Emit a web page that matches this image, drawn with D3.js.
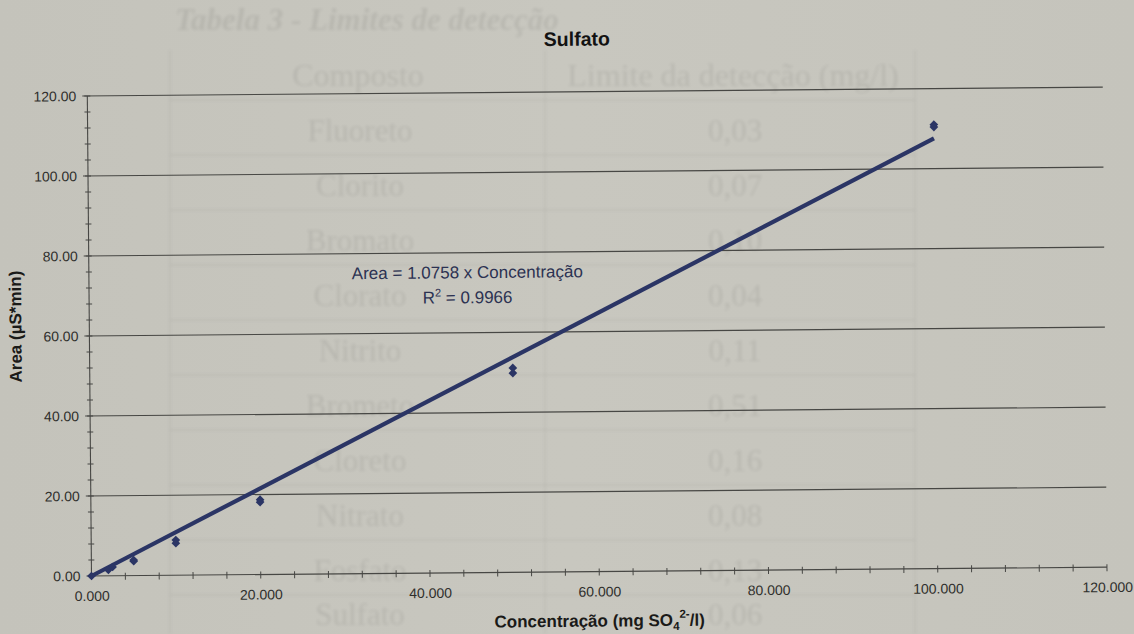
<!DOCTYPE html>
<html>
<head>
<meta charset="utf-8">
<script src="https://cdn.jsdelivr.net/npm/d3@7"></script>
<style>
  html, body { margin: 0; padding: 0; background: #c5c4bc; }
  svg { display: block; }
</style>
</head>
<body>
<svg id="chart" width="1134" height="634"></svg>
<script>
// Calibration standards for sulfate (replicate injections)
const concentrations = [0, 2, 2.5, 5, 5, 10, 10, 20, 20, 50, 50, 100, 100];
const areas = [0, 1.5, 2.2, 3.6, 3.9, 8.8, 8.0, 18.7, 18.1, 51.1, 49.8, 111.0, 110.4];

// Linear fit through the origin
const slope = 1.0758;
const rSquared = 0.9966;
const trendRange = [0, 100];

// Axis ticks
const xMajorTicks = [0, 20, 40, 60, 80, 100, 120];
const yMajorTicks = [0, 20, 40, 60, 80, 100, 120];
const xMinorTicks = d3.range(0, 121, 4);
const yMinorTicks = d3.range(0, 121, 4);

// Reference table printed on the facing sheet
const tableTitle = "Tabela 3 - Limites de detecção";
const tableHeaders = ["Composto", "Limite da detecção (mg/l)"];
const tableCompounds = ["Fluoreto", "Clorito", "Bromato", "Clorato", "Nitrito", "Brometo", "Cloreto", "Nitrato", "Fosfato", "Sulfato"];
const tableLimits = ["0,03", "0,07", "0,10", "0,04", "0,11", "0,51", "0,16", "0,08", "0,13", "0,06"];

const W = 1134, H = 634;
const svg = d3.select("#chart");

const defs = svg.append("defs");
defs.append("filter").attr("id", "soft")
  .append("feGaussianBlur").attr("stdDeviation", 1.4);
const paper = defs.append("linearGradient").attr("id", "paper")
  .attr("x1", 0).attr("y1", 0).attr("x2", 1).attr("y2", 0);
paper.append("stop").attr("offset", 0).attr("stop-color", "#c4c3bb");
paper.append("stop").attr("offset", 0.5).attr("stop-color", "#c8c7bf");
paper.append("stop").attr("offset", 1).attr("stop-color", "#c5c4bc");

svg.append("rect").attr("width", W).attr("height", H).attr("fill", "url(#paper)");

// ---- faint table showing through the sheet ----
const ghost = svg.append("g").attr("filter", "url(#soft)")
  .attr("fill", "#000").attr("opacity", 0.072)
  .style("font-family", "'Liberation Serif', 'DejaVu Serif', serif");

const rowY = d3.scaleLinear().domain([0, 1]).range([141, 196.5]);
ghost.append("text").attr("x", 175).attr("y", 30)
  .style("font-size", "31px").style("font-style", "italic").style("font-weight", "bold")
  .text(tableTitle);
ghost.append("text").attr("x", 358).attr("y", 86).attr("text-anchor", "middle")
  .style("font-size", "32px").text(tableHeaders[0]);
ghost.append("text").attr("x", 733).attr("y", 86).attr("text-anchor", "middle")
  .style("font-size", "32px").text(tableHeaders[1]);
ghost.selectAll("text.cmp").data(tableCompounds).join("text").attr("class", "cmp")
  .attr("x", 360).attr("y", (d, i) => Math.min(rowY(i) - i * 0.5, 625)).attr("text-anchor", "middle")
  .style("font-size", "31px").text(d => d);
ghost.selectAll("text.lim").data(tableLimits).join("text").attr("class", "lim")
  .attr("x", 735).attr("y", (d, i) => Math.min(rowY(i) - i * 0.5, 625)).attr("text-anchor", "middle")
  .style("font-size", "31px").text(d => d);
const ghostLines = svg.append("g").attr("filter", "url(#soft)")
  .attr("stroke", "#000").attr("stroke-opacity", 0.04).attr("stroke-width", 2);
[170, 545, 915].forEach(x => ghostLines.append("line")
  .attr("x1", x).attr("x2", x).attr("y1", 50).attr("y2", 634));
d3.range(0, 11).forEach(i => ghostLines.append("line")
  .attr("x1", 170).attr("x2", 915)
  .attr("y1", rowY(i) - 41 - i * 0.5).attr("y2", rowY(i) - 41 - i * 0.5));

// ---- chart ----
const origin = [91.5, 576];
const plotW = 1015.5, plotH = 480;

const x = d3.scaleLinear().domain([0, 120]).range([0, plotW]);
const y = d3.scaleLinear().domain([0, 120]).range([0, -plotH]);

// the sheet sits slightly askew
const g = svg.append("g")
  .attr("transform", `translate(${origin[0]},${origin[1]}) rotate(-0.5)`)
  .style("font-family", "'Liberation Sans', Arial, sans-serif");

const axisColor = "#474744";
const navy = "#2b3565";

// horizontal gridlines
g.append("g").selectAll("line").data(yMajorTicks.filter(d => d > 0)).join("line")
  .attr("x1", -5).attr("x2", x(120))
  .attr("y1", d => y(d)).attr("y2", d => y(d))
  .attr("stroke", axisColor).attr("stroke-width", 1.1);

// axes lines
g.append("line").attr("x1", 0).attr("x2", 0).attr("y1", y(0)).attr("y2", y(120))
  .attr("stroke", axisColor).attr("stroke-width", 1.1);
g.append("line").attr("x1", -5).attr("x2", x(120)).attr("y1", y(0)).attr("y2", y(0))
  .attr("stroke", axisColor).attr("stroke-width", 1.1);

// minor tick marks crossing the axes
g.append("g").selectAll("line").data(yMinorTicks).join("line")
  .attr("x1", -3).attr("x2", 3)
  .attr("y1", d => y(d)).attr("y2", d => y(d))
  .attr("stroke", axisColor).attr("stroke-width", 1);
g.append("g").selectAll("line").data(xMinorTicks).join("line")
  .attr("x1", d => x(d)).attr("x2", d => x(d))
  .attr("y1", -3).attr("y2", 4)
  .attr("stroke", axisColor).attr("stroke-width", 1);

// tick labels via d3 axes
const yAxis = d3.axisLeft(y).tickValues(yMajorTicks)
  .tickFormat(d3.format(".2f")).tickSize(0).tickPadding(11);
const xAxis = d3.axisBottom(x).tickValues(xMajorTicks)
  .tickFormat(d3.format(".3f")).tickSize(0).tickPadding(15);

const yAx = g.append("g").call(yAxis);
const xAx = g.append("g").call(xAxis);
[yAx, xAx].forEach(a => {
  a.select(".domain").remove();
  a.selectAll("text").attr("fill", "#2f2f2c")
    .style("font-size", "14px").style("font-family", "'Liberation Sans', Arial, sans-serif");
});

// trendline
const line = d3.line().x(d => x(d)).y(d => y(slope * d));
g.append("path").datum(trendRange)
  .attr("d", line).attr("fill", "none")
  .attr("stroke", navy).attr("stroke-width", 4.2).attr("stroke-linecap", "butt");

// data markers (diamonds)
const diamond = d3.symbol(d3.symbolSquare, 38);
g.append("g").selectAll("path").data(concentrations).join("path")
  .attr("d", diamond())
  .attr("transform", (d, i) => `translate(${x(d)},${y(areas[i])}) rotate(45)`)
  .attr("fill", navy);

// regression labels
const eq = g.append("g").attr("fill", "#2c3252").style("font-size", "17px");
eq.append("text").attr("x", 378.5).attr("y", -294.5).attr("text-anchor", "middle")
  .text(`Area = ${slope} x Concentração`);
const r2 = eq.append("text").attr("x", 378.5).attr("y", -269.5).attr("text-anchor", "middle");
r2.append("tspan").text("R");
r2.append("tspan").attr("dy", -7).style("font-size", "11px").text("2");
r2.append("tspan").attr("dy", 7).text(` = ${rSquared}`);

// title
g.append("text").attr("x", 490).attr("y", -526).attr("text-anchor", "middle")
  .attr("fill", "#121212").style("font-size", "19.5px").style("font-weight", "bold")
  .text("Sulfato");

// x axis title
const xt = g.append("text").attr("x", x(60)).attr("y", 55).attr("text-anchor", "middle")
  .attr("fill", "#1a1a18").style("font-size", "17px").style("font-weight", "bold");
xt.append("tspan").text("Concentração (mg SO");
xt.append("tspan").attr("dy", 4).style("font-size", "11.5px").text("4");
xt.append("tspan").attr("dy", -12).style("font-size", "11.5px").text("2-");
xt.append("tspan").attr("dy", 8).text("/l)");

// y axis title
g.append("text")
  .attr("transform", `translate(-68,${-250}) rotate(-90)`)
  .attr("text-anchor", "middle")
  .attr("fill", "#1a1a18").style("font-size", "17px").style("font-weight", "bold")
  .text("Area (µS*min)");
</script>
</body>
</html>
